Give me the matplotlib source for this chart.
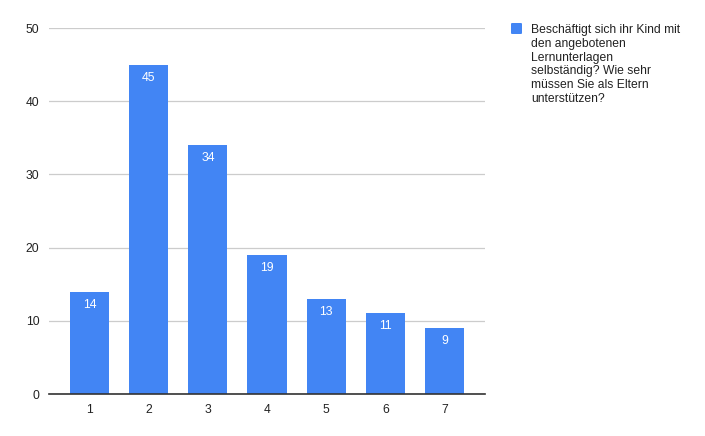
import matplotlib
matplotlib.use("Agg")
import matplotlib.pyplot as plt
from matplotlib.patches import FancyBboxPatch
from matplotlib.transforms import offset_copy

categories = ["1", "2", "3", "4", "5", "6", "7"]
values = [14, 45, 34, 19, 13, 11, 9]
yticks = [0, 10, 20, 30, 40, 50]
legend_lines = ["Beschäftigt sich ihr Kind mit", "den angebotenen", "Lernunterlagen",
                "selbständig? Wie sehr", "müssen Sie als Eltern", "unterstützen?"]

BLUE = "#4285F4"
TXT = "#222222"
plt.rcParams['font.family'] = ['Liberation Sans', 'DejaVu Sans']

fig = plt.figure(figsize=(7.05, 4.36), dpi=100)
ax = fig.add_axes([49/705, 1-394/436, (485-49)/705, (394-28)/436])

x = list(range(1, len(categories)+1))
bars = ax.bar(x, values, width=0.66, color=BLUE, zorder=3)
for b, v in zip(bars, values):
    t = offset_copy(ax.transData, fig=fig, x=0, y=-7, units='dots')
    ax.text(b.get_x()+b.get_width()/2, v, str(v), transform=t, ha='center', va='top',
            color='white', fontsize=8.8, zorder=4)

ax.set_xlim(1-0.686, 7+0.686)
ax.set_ylim(0, 50)
ax.set_yticks(yticks)
ax.set_xticks(x)
ax.set_xticklabels(categories)
ax.yaxis.grid(True, color='#cccccc', linewidth=0.9, zorder=0)
ax.set_axisbelow(True)
for s in ['top', 'right', 'left']:
    ax.spines[s].set_visible(False)
ax.spines['bottom'].set_color('#333333')
ax.spines['bottom'].set_linewidth(1.2)
ax.spines['bottom'].set_zorder(5)
ax.tick_params(axis='both', length=0, labelsize=8.7, colors=TXT)
ax.tick_params(axis='x', pad=7)
ax.tick_params(axis='y', pad=7)

# legend
fig.patches.append(FancyBboxPatch((511/705, 1-34/436), 11/705, 11/436,
                                  boxstyle="round,pad=0,rounding_size=0.002",
                                  transform=fig.transFigure, color=BLUE, linewidth=0))
for i, line in enumerate(legend_lines):
    fig.text(531/705, 1-(33.3+13.7*i)/436, line, ha='left', va='baseline',
             fontsize=8.7, color=TXT)

fig.savefig("out.png", dpi=100, facecolor='white')
